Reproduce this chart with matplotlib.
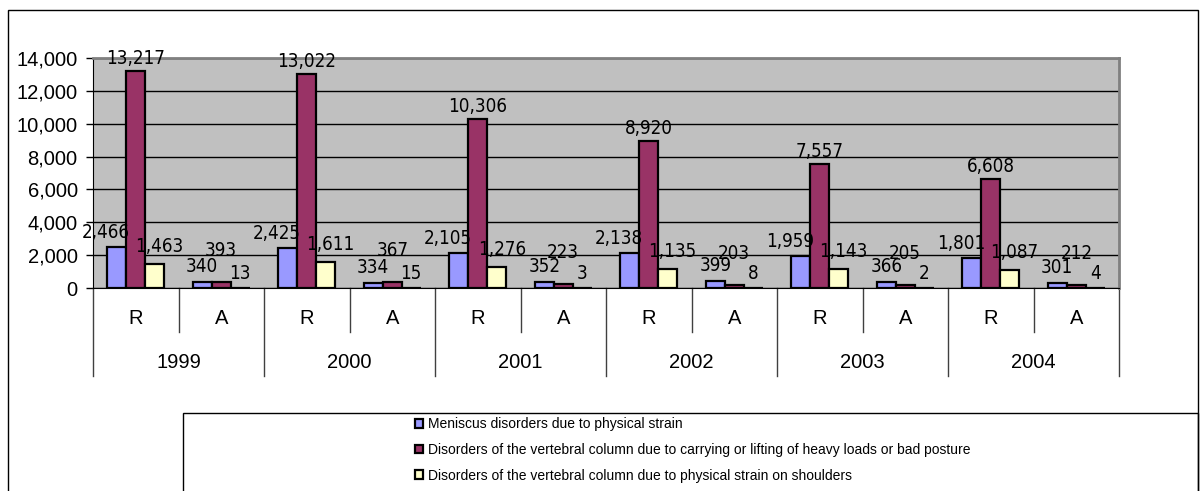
import matplotlib
matplotlib.use('Agg')
import numpy as np
import matplotlib.pyplot as plt
from matplotlib.patches import Rectangle, Patch

plt.rcParams['font.family'] = ['Liberation Sans', 'DejaVu Sans']

# data
years = ['1999', '2000', '2001', '2002', '2003', '2004']
kinds = ['R', 'A']
series_names = [
    'Meniscus disorders due to physical strain',
    'Disorders of the vertebral column due to carrying or lifting of heavy loads or bad posture',
    'Disorders of the vertebral column due to physical strain on shoulders',
]
meniscus = [2466, 340, 2425, 334, 2105, 352, 2138, 399, 1959, 366, 1801, 301]
vertebral_loads = [13217, 393, 13022, 367, 10306, 223, 8920, 203, 7557, 205, 6608, 212]
shoulders = [1463, 13, 1611, 15, 1276, 3, 1135, 8, 1143, 2, 1087, 4]
colors = ['#9999FF', '#993366', '#FFFFCC']

W, H = 1200, 491
fig = plt.figure(figsize=(W / 100, H / 100), dpi=100)
ax = fig.add_axes([93 / W, 1 - 288 / H, (1119 - 93) / W, (288 - 58) / H])
ax.set_facecolor('#C0C0C0')

x = np.arange(len(years) * len(kinds))
bw = 0.222
all_series = [meniscus, vertebral_loads, shoulders]

# label offsets (px) for R and A groups, per series
offs_R = [(-11, 5), (0, 3), (5, 8)]
offs_A = [(0, 6), (0, 22), (0, 5)]

for i, (vals, col) in enumerate(zip(all_series, colors)):
    xs = x + (i - 1) * bw
    ax.bar(xs, vals, width=bw, color=col, edgecolor='black', linewidth=1.6, zorder=3)
    for j, (xx, v) in enumerate(zip(xs, vals)):
        dx, dy = offs_R[i] if j % 2 == 0 else offs_A[i]
        ax.annotate(f'{v:,}', (xx, v), xytext=(dx * 0.72, dy * 0.72),
                    textcoords='offset points', ha='center', va='bottom',
                    fontsize=13.5, family='DejaVu Sans', fontstretch='condensed',
                    zorder=5, annotation_clip=False)

ax.set_ylim(0, 14000)
ax.set_yticks(range(0, 14001, 2000))
ax.set_yticklabels([f'{v:,}' for v in range(0, 14001, 2000)], fontsize=14.5)
ax.yaxis.grid(True, color='black', linewidth=1)
ax.set_axisbelow(True)
ax.tick_params(axis='y', direction='out', length=5, width=1, pad=6)
ax.set_xlim(-0.5, len(x) - 0.5)
ax.set_xticks([])

for s in ['top', 'right']:
    ax.spines[s].set_color('#808080')
    ax.spines[s].set_linewidth(2)
ax.spines['left'].set_color('black')
ax.spines['bottom'].set_color('black')

# two-level category axis
tr = ax.get_xaxis_transform()
axh = 288 - 58
for k in range(len(x)):
    ax.text(x[k], -31 / axh, kinds[k % 2], transform=tr, ha='center', va='center', fontsize=14.5)
    if k % 2 == 0:
        ax.plot([k + 0.5, k + 0.5], [0, -44 / axh], transform=tr, color='#404040',
                lw=1, clip_on=False)
for yi, yr in enumerate(years):
    ax.text(2 * yi + 0.5, -74 / axh, yr, transform=tr, ha='center', va='center', fontsize=14.5)
for b in np.arange(-0.5, len(x), 2):
    ax.plot([b, b], [0, -88 / axh], transform=tr, color='#404040', lw=1, clip_on=False)

# outer chart border and legend box
fig.add_artist(Rectangle((8 / W, -0.1), (1198 - 8) / W, 1.1 - 10 / H, transform=fig.transFigure,
                         fill=False, edgecolor='black', lw=1))
fig.add_artist(Rectangle((183 / W, -0.1), (1198 - 183) / W, 0.1 + 1 - 413 / H,
                         transform=fig.transFigure, fill=False, edgecolor='black', lw=1))

handles = [Patch(facecolor=c, edgecolor='black', linewidth=1.6) for c in colors]
fig.legend(handles, series_names, loc='upper left',
           bbox_to_anchor=(415 / W, 1 - 417 / H), bbox_transform=fig.transFigure,
           frameon=False, fontsize=10, handlelength=0.6, handleheight=0.6,
           handletextpad=0.3, labelspacing=0.85, borderpad=0, borderaxespad=0)

fig.savefig('out.png', dpi=100)
